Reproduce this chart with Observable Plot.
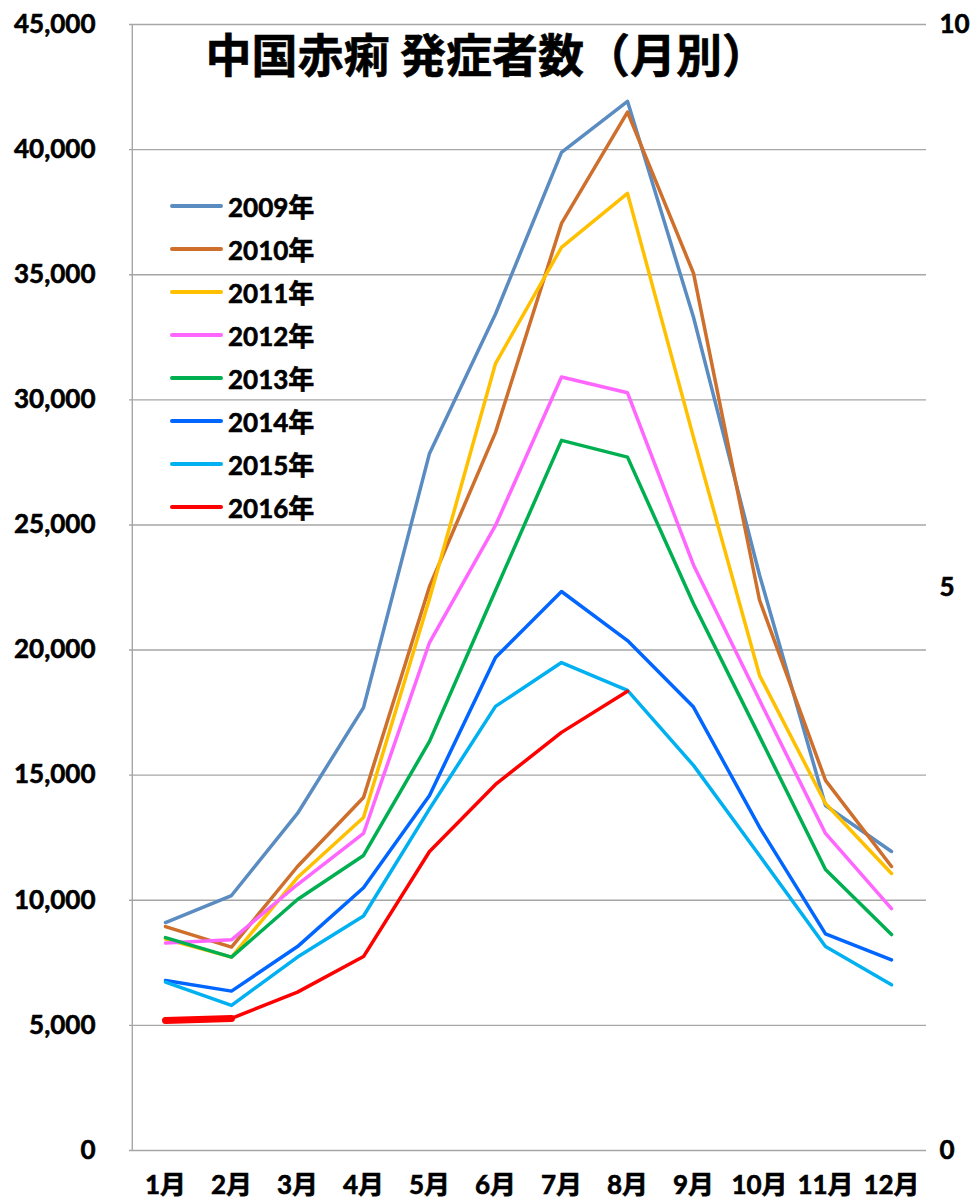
<!DOCTYPE html>
<html>
<head>
<meta charset="utf-8">
<script src="https://cdn.jsdelivr.net/npm/d3@7"></script>
<script src="https://cdn.jsdelivr.net/npm/@observablehq/plot@0.6"></script>
<style>
  html, body { margin: 0; padding: 0; background: #fff; }
  #wrap { position: relative; width: 970px; height: 1203px; }
  #wrap svg text { stroke: #000; stroke-width: 0.6px; }
  #legend { position: absolute; left: 170px; top: 184px; font-family: Lato, "Noto Sans CJK JP", sans-serif; font-weight: 700; font-size: 26px; color: #000; -webkit-text-stroke: 0.6px #000; }
  .row { display: flex; align-items: center; height: 43px; }
  .sw { width: 53px; height: 4px; border-radius: 2px; margin-right: 5px; }
</style>
</head>
<body>
<div id="wrap"></div>
<script>
const title = "中国赤痢 発症者数（月別）";
const months = ["1月","2月","3月","4月","5月","6月","7月","8月","9月","10月","11月","12月"];
const years = ["2009年","2010年","2011年","2012年","2013年","2014年","2015年","2016年"];
const colors = ["#5A8CC2","#CF6F2C","#FFC000","#FF66FF","#00B050","#0066FF","#00B0F0","#FF0000"];
const leftTicks = [0,5000,10000,15000,20000,25000,30000,35000,40000,45000];
const rightTicks = [0,5,10];

const v2009 = [9110,10190,13470,17700,27860,33430,39890,41930,33300,23000,13790,11950];
const v2010 = [8950,8130,11350,14110,22540,28700,37050,41500,35060,22000,14790,11350];
const v2011 = [8450,7730,10910,13310,22050,31450,36090,38250,28500,18990,13870,11070];
const v2012 = [8290,8420,10630,12670,20300,24980,30910,30280,23400,18000,12670,9670];
const v2013 = [8510,7730,10030,11790,16350,22380,28380,27710,21850,16550,11230,8630];
const v2014 = [6790,6370,8150,10500,14190,19700,22340,20380,17720,12920,8660,7620];
const v2015 = [6730,5800,7730,9370,13650,17750,19500,18390,15390,11790,8150,6620];
const v2016 = [5200,5280,6330,7750,11950,14630,16710,18350];

const series = [v2009,v2010,v2011,v2012,v2013,v2014,v2015,v2016];
const data = [];
series.forEach((vals, i) => vals.forEach((v, j) => data.push({year: years[i], month: months[j], value: v})));
const thick = data.filter(d => d.year === years[7] && (d.month === months[0] || d.month === months[1]));

const W = 970, H = 1203, mL = 129, mR = 44;
const step = (W - mL - mR) / months.length;

const chart = Plot.plot({
  width: W, height: H,
  marginLeft: mL, marginRight: mR, marginTop: 24, marginBottom: 53,
  style: {fontFamily: "Lato, 'Noto Sans CJK JP', sans-serif", fontWeight: "bold", fontSize: "26px", color: "#000", background: "#fff"},
  x: {type: "point", domain: months, padding: 0.5},
  y: {domain: [0, 45000]},
  color: {domain: years, range: colors},
  marks: [
    Plot.gridY(leftTicks.slice(1), {stroke: "#A6A6A6", strokeOpacity: 1, strokeWidth: 1.4}),
    Plot.ruleY([0], {stroke: "#A6A6A6", strokeWidth: 1.4}),
    Plot.ruleX([months[0]], {dx: -step / 2, stroke: "#A6A6A6", strokeWidth: 1.4}),
    Plot.axisY({ticks: leftTicks, tickFormat: d3.format(","), tickSize: 0, tickPadding: 34, label: null, fontSize: 26, fontWeight: "bold"}),
    Plot.axisY({anchor: "right", ticks: rightTicks.map(d => d * 4500), tickFormat: d => String(d / 4500), tickSize: 0, tickPadding: 13, label: null, fontSize: 26, fontWeight: "bold"}),
    Plot.axisX({tickSize: 0, tickPadding: 25, label: null, fontSize: 26, fontWeight: "bold"}),
    Plot.line(data, {x: "month", y: "value", stroke: "year", z: "year", strokeWidth: 3.5, strokeLinejoin: "round", strokeLinecap: "round"}),
    Plot.line(thick, {x: "month", y: "value", stroke: "year", strokeWidth: 7, strokeLinecap: "round"}),
    Plot.text([title], {frameAnchor: "top-left", dx: 76, dy: 33, textAnchor: "start", lineAnchor: "middle", fontSize: 46, fontWeight: "bold", fontFamily: "'Noto Sans CJK JP', sans-serif", fill: "#000"})
  ]
});

const wrap = document.getElementById("wrap");
wrap.appendChild(chart);
const legend = document.createElement("div");
legend.id = "legend";
years.forEach((y, i) => {
  const row = document.createElement("div");
  row.className = "row";
  const sw = document.createElement("span");
  sw.className = "sw";
  sw.style.background = colors[i];
  const t = document.createElement("span");
  t.textContent = y;
  row.appendChild(sw); row.appendChild(t);
  legend.appendChild(row);
});
wrap.appendChild(legend);
</script>
</body>
</html>
